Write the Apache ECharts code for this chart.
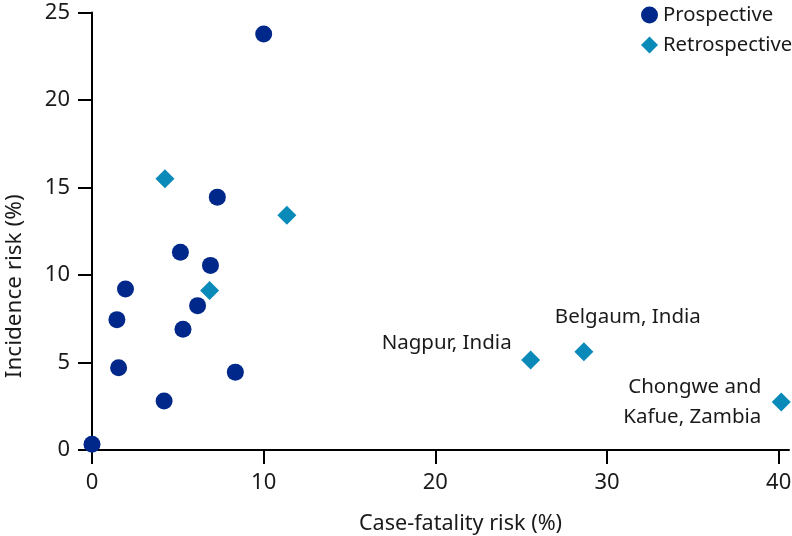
<!DOCTYPE html>
<html><head><meta charset="utf-8">
<script src="https://cdn.jsdelivr.net/npm/echarts@6/dist/echarts.min.js"></script>
<style>html,body{margin:0;padding:0;background:#fff}#c{width:792px;height:536px}</style>
</head><body><div id="c"></div>
<script>
const prospectiveX = [10.0, 7.3, 5.15, 6.9, 1.95, 1.45, 6.15, 5.3, 1.55, 8.35, 4.2, 0.0];
const prospectiveY = [23.77, 14.45, 11.3, 10.55, 9.2, 7.45, 8.25, 6.9, 4.7, 4.45, 2.8, 0.33];
const retroX = [4.25, 11.35, 6.85, 25.55, 28.65, 40.15];
const retroY = [15.5, 13.42, 9.12, 5.15, 5.62, 2.74];
const retroNames = ['', '', '', 'Nagpur, India', 'Belgaum, India', 'Chongwe and\nKafue, Zambia'];
const xTicks = [0, 10, 20, 30, 40];
const yTicks = [0, 5, 10, 15, 20, 25];

const FONT = 'Noto Sans';
const navy = '#00288a';
const teal = '#0a8ab8';

const labelStyles = {
  'Nagpur, India': {align: 'right', offset: [-19, -17]},
  'Belgaum, India': {align: 'left', offset: [-29, -34]},
  'Chongwe and\nKafue, Zambia': {align: 'right', offset: [-20, 0]}
};

const retroData = retroX.map((x, i) => {
  const d = {value: [x, retroY[i]], name: retroNames[i]};
  if (retroNames[i]) {
    const s = labelStyles[retroNames[i]];
    d.label = {show: true, position: 'inside', align: s.align, verticalAlign: 'middle',
      offset: s.offset, formatter: '{b}', color: '#1a1a1a', fontSize: 20.5, fontFamily: FONT, lineHeight: 30};
  }
  return d;
});

const chart = echarts.init(document.getElementById('c'));
chart.setOption({
  animation: false,
  backgroundColor: '#fff',
  grid: {left: 92, right: 3, top: 12.5, bottom: 86, containLabel: false, outerBoundsMode: 'none'},
  legend: {
    orient: 'vertical', left: 636, top: 0, itemGap: 10, itemWidth: 17, itemHeight: 17,
    textStyle: {fontSize: 20.3, fontFamily: FONT, color: '#1a1a1a', lineHeight: 20},
    data: [{name: 'Prospective', icon: 'circle'}, {name: 'Retrospective', icon: 'diamond'}]
  },
  xAxis: {
    type: 'value', min: 0, max: 40.6,
    name: 'Case-fatality risk (%)', nameLocation: 'middle', nameGap: 63,
    nameTextStyle: {fontSize: 21.6, fontFamily: FONT, color: '#1a1a1a', padding: [0, 0, 0, 40]},
    axisLine: {show: true, lineStyle: {color: '#000', width: 2}},
    axisTick: {show: true, length: 14, lineStyle: {color: '#000', width: 2}, customValues: xTicks},
    axisLabel: {fontSize: 22, fontFamily: FONT, color: '#1a1a1a', margin: 22, customValues: xTicks},
    splitLine: {show: false}
  },
  yAxis: {
    type: 'value', min: 0, max: 25, interval: 5,
    name: 'Incidence risk (%)', nameLocation: 'middle', nameGap: 66,
    nameTextStyle: {fontSize: 22.5, fontFamily: FONT, color: '#1a1a1a', padding: [0, 110, 0, 0]},
    axisLine: {show: true, lineStyle: {color: '#000', width: 2}},
    axisTick: {show: true, length: 14, lineStyle: {color: '#000', width: 2}, customValues: yTicks},
    axisLabel: {fontSize: 22, fontFamily: FONT, color: '#1a1a1a', margin: 22, customValues: yTicks},
    splitLine: {show: false}
  },
  series: [
    {name: 'Prospective', type: 'scatter', symbol: 'circle', symbolSize: 17, clip: false,
     itemStyle: {color: navy, opacity: 1},
     data: prospectiveX.map((x, i) => [x, prospectiveY[i]])},
    {name: 'Retrospective', type: 'scatter', symbol: 'diamond', symbolSize: 19, clip: false,
     itemStyle: {color: teal, opacity: 1},
     data: retroData}
  ]
});
</script></body></html>
